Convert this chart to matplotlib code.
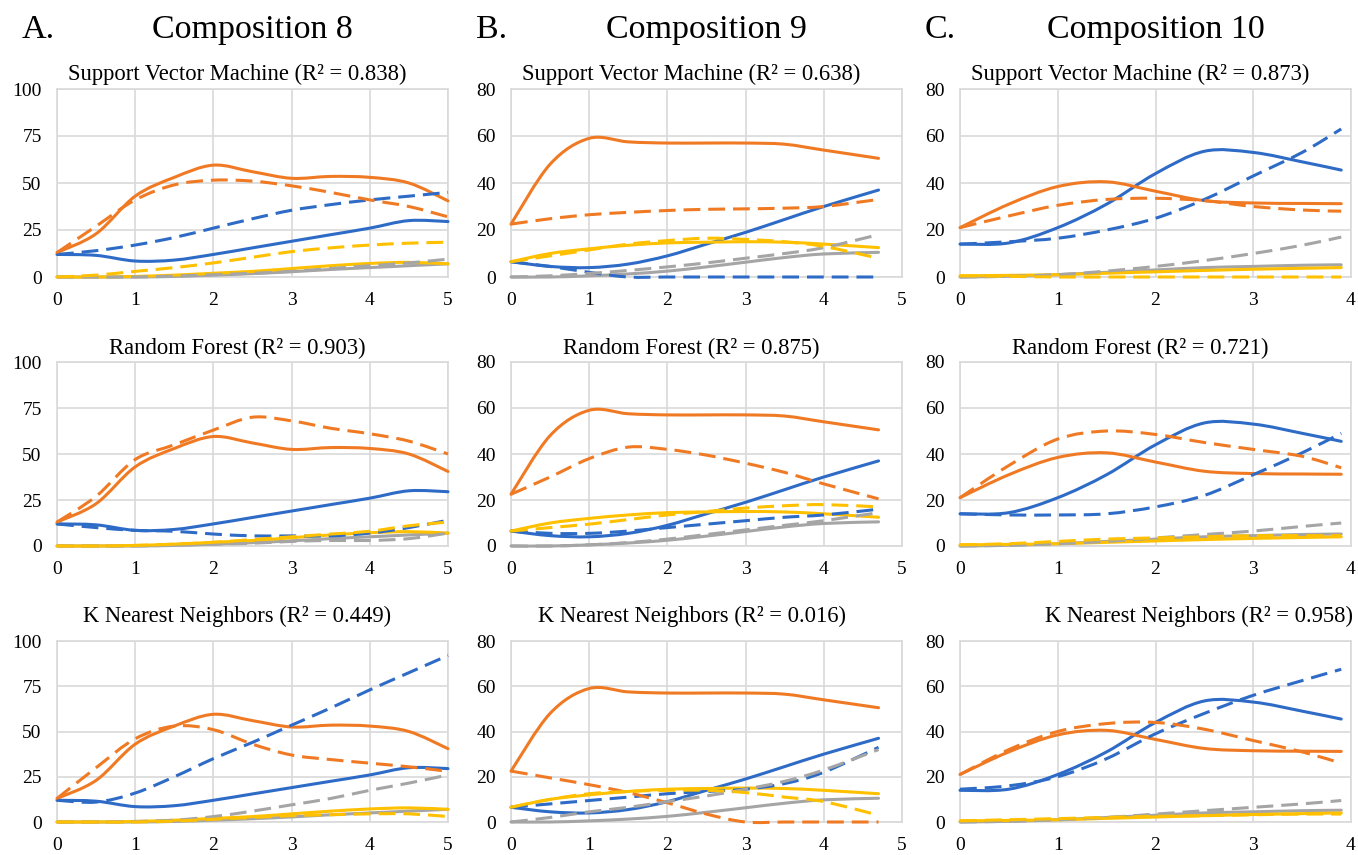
import numpy as np
import matplotlib
matplotlib.use("Agg")
import matplotlib.pyplot as plt
from matplotlib.path import Path
from matplotlib.patches import PathPatch

plt.rcParams['font.family'] = ['Liberation Serif', 'DejaVu Serif']

# time points of each composition
t8 = [0, 0.5, 1, 1.5, 2, 2.5, 3, 3.5, 4, 4.5, 5]
t9 = [0, 0.5, 1, 1.5, 2, 2.5, 3, 3.5, 4, 4.7]
t10 = [0, 0.5, 1, 1.5, 2, 2.5, 3, 3.5, 3.9]

# measured values (solid lines, same in every row of a column)
c8_blue = [12, 11.5, 8.5, 9, 12, 15.5, 19, 22.5, 26, 30, 29.5]
c8_orange = [13, 23, 43, 53, 59.5, 56, 52.5, 53.5, 53, 50, 40.5]
c8_gray = [0, 0, 0, 0.3, 1, 1.8, 2.8, 4, 5, 6, 7]
c8_yellow = [0, 0, 0.3, 1, 2, 3, 4.5, 6, 7.2, 7.8, 7]

c9_blue = [6.5, 4.5, 4, 5.5, 9, 14, 19, 24.5, 30, 37]
c9_orange = [22.5, 48, 59, 57.5, 57, 57, 57, 56.5, 54, 50.5]
c9_gray = [0, 0, 0.5, 1.3, 2.5, 4.3, 6.3, 8.3, 9.8, 10.5]
c9_yellow = [6.5, 10, 12, 13.5, 14.5, 14.8, 15, 14.8, 14, 12.5]

c10_blue = [14, 14.5, 21, 31, 44, 53.5, 53, 49, 45.5]
c10_orange = [21, 31, 38.5, 40.5, 36.5, 32.5, 31.5, 31.3, 31.2]
c10_gray = [0, 0.3, 1, 2, 3, 4, 4.5, 5, 5.2]
c10_yellow = [0.5, 0.7, 1, 1.6, 2.2, 2.8, 3.3, 3.7, 4]

# predicted values (dashed lines)
c8_svm_blue = [12, 14, 17, 21, 26, 31, 35.5, 38.5, 41, 43, 45]
c8_svm_orange = [13, 27, 41, 49, 51.5, 51, 48.5, 45, 41, 37.5, 32]
c8_svm_gray = [0, 0, 0, 0.5, 1.2, 2, 3, 4.5, 6, 7.5, 9.5]
c8_svm_yellow = [0, 1, 3, 5, 7.5, 10.5, 13.5, 15.5, 17, 18, 18.5]

c8_rf_blue = [12, 10, 8.5, 8, 6.5, 5.5, 5.5, 5.5, 7, 10, 14]
c8_rf_orange = [13, 27, 47, 55, 63, 70, 68, 64, 61, 57, 50]
c8_rf_gray = [0, 0, 0, 0.5, 1, 1.5, 2.5, 3, 3, 4, 7]
c8_rf_yellow = [0, 0, 0.3, 1, 2, 3.5, 5, 6.5, 8, 11, 13]

c8_knn_blue = [12, 11, 16, 25, 35, 44, 53.5, 63, 73, 82.5, 92]
c8_knn_orange = [13, 30, 46, 53, 51, 43, 37, 34.5, 32.5, 30.5, 28]
c8_knn_gray = [0, 0, 0.3, 1, 3, 6, 9.5, 13, 17.5, 21.5, 26]
c8_knn_yellow = [0, 0, 0, 0.5, 1.5, 2.5, 3.5, 4, 4.5, 4.5, 3]

c9_svm_blue = [6.5, 4.5, 2, 0, 0, 0, 0, 0, 0, 0]
c9_svm_orange = [22.5, 24.8, 26.5, 27.5, 28.3, 28.8, 29, 29.3, 30, 33]
c9_svm_gray = [0, 0.5, 1.5, 2.8, 4.3, 6, 8, 10, 12.5, 18]
c9_svm_yellow = [6.5, 9, 11.5, 14, 15.5, 16.5, 16, 15, 13, 8]

c9_rf_blue = [6.5, 5.5, 5.5, 6.5, 8, 9.5, 11, 12.5, 13.5, 16]
c9_rf_orange = [22.5, 30, 38, 43, 42, 39.5, 36, 32, 27, 20.5]
c9_rf_gray = [0, 0, 0.5, 1.5, 3, 5, 7, 9, 11, 14.5]
c9_rf_yellow = [6.5, 8, 9.5, 11.5, 13.5, 15, 16.5, 17.5, 18, 17]

c9_knn_blue = [6.5, 8, 9.5, 11, 12.5, 13.5, 14.5, 17, 22, 33]
c9_knn_orange = [22.5, 19.5, 16.5, 13, 8.5, 3.5, 0, 0, 0, 0]
c9_knn_gray = [0, 2, 4.5, 6.5, 9, 11.5, 14.5, 18, 23, 32]
c9_knn_yellow = [6.5, 10, 12.5, 13.5, 14, 14, 13, 11, 9, 3]

c10_svm_blue = [14, 15, 16.5, 20, 25, 33, 43, 53, 63]
c10_svm_orange = [21, 26, 30.5, 33, 33.5, 32.5, 30, 28.5, 28]
c10_svm_gray = [0, 0.3, 1, 2.5, 4.5, 7, 10, 13.5, 17]
c10_svm_yellow = [0.5, 0.3, 0, 0, 0, 0, 0, 0, 0]

c10_rf_blue = [14, 13.5, 13.5, 14, 17, 22, 31, 40.5, 49]
c10_rf_orange = [21, 35, 46.5, 50, 48.5, 45, 42, 39, 34]
c10_rf_gray = [0, 0.3, 1, 2, 3.5, 5, 6.5, 8.5, 10]
c10_rf_yellow = [0.5, 1, 2, 3, 3.5, 4, 4.5, 4.5, 4.5]

c10_knn_blue = [14.5, 16, 20, 28, 39, 48, 56, 62.5, 67.5]
c10_knn_orange = [21, 32, 40, 43.5, 44, 41, 36, 31, 26]
c10_knn_gray = [0, 0.3, 1, 2, 3.5, 5, 6.5, 8, 9.5]
c10_knn_yellow = [0.5, 1, 1.5, 2, 2.5, 2.8, 3.2, 3.5, 3.5]

headers = ["Composition 8", "Composition 9", "Composition 10"]
letters = ["A.", "B.", "C."]
models = ["Support Vector Machine", "Random Forest", "K Nearest Neighbors"]
r2 = [["0.838", "0.638", "0.873"],
      ["0.903", "0.875", "0.721"],
      ["0.449", "0.016", "0.958"]]
y_max = [100, 80, 80]
y_step = [25, 20, 20]
x_max = [5, 5, 4]

colors = ["#2E6BC6", "#F07A24", "#A5A5A5", "#FFC000"]

times = [t8, t9, t10]
measured = [[c8_blue, c8_orange, c8_gray, c8_yellow],
            [c9_blue, c9_orange, c9_gray, c9_yellow],
            [c10_blue, c10_orange, c10_gray, c10_yellow]]
predicted = [
    [[c8_svm_blue, c8_svm_orange, c8_svm_gray, c8_svm_yellow],
     [c9_svm_blue, c9_svm_orange, c9_svm_gray, c9_svm_yellow],
     [c10_svm_blue, c10_svm_orange, c10_svm_gray, c10_svm_yellow]],
    [[c8_rf_blue, c8_rf_orange, c8_rf_gray, c8_rf_yellow],
     [c9_rf_blue, c9_rf_orange, c9_rf_gray, c9_rf_yellow],
     [c10_rf_blue, c10_rf_orange, c10_rf_gray, c10_rf_yellow]],
    [[c8_knn_blue, c8_knn_orange, c8_knn_gray, c8_knn_yellow],
     [c9_knn_blue, c9_knn_orange, c9_knn_gray, c9_knn_yellow],
     [c10_knn_blue, c10_knn_orange, c10_knn_gray, c10_knn_yellow]],
]


def smooth_path(x, y):
    # Excel-style smoothed line: cubic Bezier through every point
    pts = np.column_stack([x, y]).astype(float)
    n = len(pts)
    verts = [pts[0]]
    codes = [Path.MOVETO]
    for i in range(n - 1):
        p0 = pts[max(i - 1, 0)]
        p1 = pts[i]
        p2 = pts[i + 1]
        p3 = pts[min(i + 2, n - 1)]
        verts += [p1 + (p2 - p0) / 6, p2 - (p3 - p1) / 6, p2]
        codes += [Path.CURVE4] * 3
    return Path(verts, codes)


def draw_line(ax, x, y, color, dashed):
    ls = (0, (5.5, 2.6)) if dashed else "-"
    patch = PathPatch(smooth_path(x, y), fill=False, edgecolor=color,
                      lw=2.2, linestyle=ls, joinstyle="round",
                      capstyle="butt" if dashed else "round",
                      clip_on=False, zorder=3)
    ax.add_patch(patch)


W, H = 1358, 855
fig = plt.figure(figsize=(W / 100, H / 100), dpi=100)

col_left = [57, 511, 960]
col_width = 391
row_top = [89, 362, 641]
row_bottom = [277, 546, 822]
title_lift = [9, 8, 19]

for c in range(3):
    for r in range(3):
        ax = fig.add_axes([col_left[c] / W, 1 - row_bottom[r] / H,
                           col_width / W, (row_bottom[r] - row_top[r]) / H])
        for k in range(4):
            draw_line(ax, times[c], measured[c][k], colors[k], False)
        for k in range(4):
            draw_line(ax, times[c], predicted[r][c][k], colors[k], True)
        ax.set_xlim(0, x_max[c])
        ax.set_ylim(0, y_max[c])
        ax.set_xticks(range(x_max[c] + 1))
        ax.set_yticks(range(0, y_max[c] + 1, y_step[c]))
        ax.grid(True, color="#D9D9D9", lw=1.2)
        ax.set_axisbelow(True)
        for s in ax.spines.values():
            s.set_color("#D9D9D9")
            s.set_linewidth(1.2)
        ax.tick_params(length=0, labelsize=14, pad=11)
        h = row_bottom[r] - row_top[r]
        title = models[r] + " (R\u00b2 = " + r2[r][c] + ")"
        if r == 2 and c == 2:
            ax.text(1.005, 1 + title_lift[r] / h, title, transform=ax.transAxes,
                    ha="right", va="baseline", fontsize=16.3)
        else:
            ax.text(0.5 - 15 / col_width, 1 + title_lift[r] / h, title,
                    transform=ax.transAxes, ha="center", va="baseline",
                    fontsize=16.3)

    fig.text((col_left[c] + col_width / 2) / W, 1 - 38 / H, headers[c],
             ha="center", va="baseline", fontsize=24.5)
    fig.text((col_left[c] - 35) / W, 1 - 38 / H, letters[c],
             ha="left", va="baseline", fontsize=24.5)

fig.savefig("out.png", dpi=100)
